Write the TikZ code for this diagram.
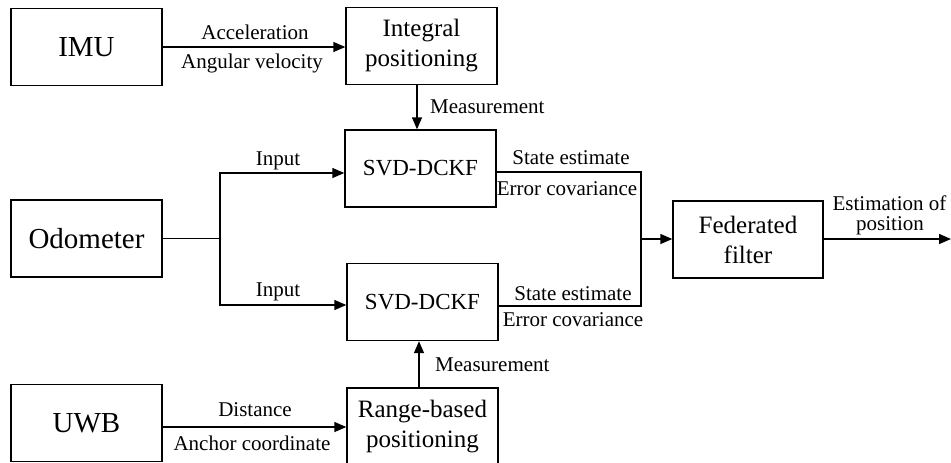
\documentclass[tikz,border=0pt]{standalone}
\usepackage{fontspec}
\setmainfont{Liberation Serif}
\usetikzlibrary{arrows.meta}
\begin{document}
\begin{tikzpicture}[x=1pt,y=-1pt,
  box/.style={draw,line width=1.4pt,minimum width=151pt,minimum height=77pt,inner sep=0pt,align=center,font=\fontsize{25}{30}\selectfont},
  bigbox/.style={box,font=\fontsize{29}{34}\selectfont},
  svdbox/.style={box,font=\fontsize{23}{28}\selectfont},
  lbl/.style={inner sep=0pt,font=\fontsize{21}{25}\selectfont},
  ln/.style={line width=1.4pt},
  arr/.style={ln,-{Triangle[length=12pt,width=10pt]}}]
\useasboundingbox (0,0) rectangle (951,463);
% boxes
\node[bigbox] (imu) at (86.5,47) {IMU};
\node[box] (integ) at (421.5,46) {Integral\\positioning};
\node[svdbox] (svd1) at (420.5,168.5) {SVD-DCKF};
\node[bigbox] (odo) at (86.5,238.5) {Odometer};
\node[svdbox] (svd2) at (422.5,302) {SVD-DCKF};
\node[box,minimum width=150pt] (fed) at (748,239.5) {Federated\\filter};
\node[bigbox] (uwb) at (86.5,423) {UWB};
\node[box] (range) at (422.5,426.5) {Range-based\\positioning};
% coordinates
\coordinate (split) at (220,238.5);
\coordinate (merge1) at (641,172);
\coordinate (merge2) at (641,306);
\coordinate (mergein) at (641,239);
\coordinate (out) at (951,239);
% connectors
\draw[arr] (imu.east |- 0,47) -- (integ.west |- 0,47);
\draw[arr] (integ.south -| 417,0) -- (svd1.north -| 417,0);
\draw[ln] (odo.east) -- (split);
\draw[arr] (split) |- (svd1.west |- 0,173);
\draw[arr] (split) |- (svd2.west |- 0,305);
\draw[ln] (svd1.east |- merge1) -- (merge1) -- (merge2) -- (svd2.east |- merge2);
\draw[arr] (mergein) -- (fed.west |- mergein);
\draw[arr] (fed.east |- out) -- (out);
\draw[arr] (uwb.east |- 0,427) -- (range.west |- 0,427);
\draw[arr] (range.north -| 419,0) -- (svd2.south -| 419,0);
% labels
\node[lbl] (l1) at (255,32) {Acceleration};
\node[lbl] (l2) at (252,63) {Angular velocity};
\node[lbl,anchor=west] (l3) at (430,107) {Measurement};
\node[lbl] (l4) at (278,161) {Input};
\node[lbl] (l5) at (278,292) {Input};
\node[lbl] (l6) at (571,158) {State estimate};
\node[lbl] (l7) at (567,189) {Error covariance};
\node[lbl] (l8) at (573,294) {State estimate};
\node[lbl] (l9) at (573,320) {Error covariance};
\node[lbl] (l10) at (889.5,203) {Estimation of};
\node[lbl] (l11) at (890,226) {position};
\node[lbl,anchor=west] (l12) at (435,365) {Measurement};
\node[lbl] (l13) at (255,410) {Distance};
\node[lbl] (l14) at (252,443) {Anchor coordinate};
\end{tikzpicture}
\end{document}
